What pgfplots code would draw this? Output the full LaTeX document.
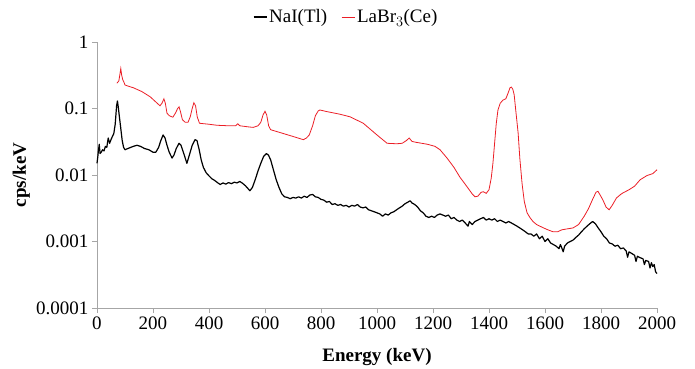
\documentclass[border=0pt]{standalone}
\usepackage{pgfplots}
\pgfplotsset{compat=1.18}
\usepackage{fontspec}
\setmainfont{Liberation Serif}
\definecolor{labr}{RGB}{235,30,38}
\begin{document}
\begin{tikzpicture}
\path[use as bounding box] (-97pt,-60pt) rectangle (598pt,308pt);
\begin{axis}[
  scale only axis, width=560pt, height=266pt,
  ymode=log, xmin=0, xmax=2000, ymin=1e-4, ymax=1,
  axis lines*=left,
  axis line style={gray!70, line width=0.8pt},
  tick style={gray!70, line width=0.8pt},
  tick align=outside, major tick length=5pt,
  xtick={0,200,...,2000},
  xticklabels={0,200,400,600,800,1000,1200,1400,1600,1800,2000},
  ytick={1e-4,1e-3,1e-2,1e-1,1},
  yticklabels={0.0001,0.001,0.01,0.1,1},
  yminorticks=false,
  tick label style={font=\fontsize{19}{22}\selectfont},
  xlabel={\bfseries Energy (keV)},
  ylabel={\bfseries cps/keV},
  label style={font=\fontsize{19}{22}\selectfont},
  xlabel style={at={(axis description cs:0.5,-0.185)}, anchor=center},
  ylabel style={at={(axis description cs:-0.135,0.5)}, anchor=center},
  legend columns=2,
  legend style={draw=none, fill=none, at={(axis description cs:0.445,1.094)}, anchor=center,
    font=\fontsize{19}{22}\selectfont, /tikz/every even column/.append style={column sep=12pt}},
  legend image code/.code={\draw[#1] (0pt,0pt) -- (13pt,0pt);},
  clip=false,
]
\addplot[black, line width=1.2pt, line join=round] coordinates {
(0,0.015)(3,0.019)(5,0.023)(8,0.029)(11,0.021)(15,0.022)(20,0.024)(25,0.023)(30,0.027)(35,0.026)
(40,0.036)(45,0.030)(50,0.034)(55,0.038)(60,0.042)(65,0.058)(70,0.11)(73,0.13)(76,0.105)(80,0.075)
(85,0.05)(90,0.033)(95,0.026)(100,0.024)(110,0.025)(120,0.026)(130,0.027)(143,0.028)(155,0.027)
(170,0.025)(185,0.024)(200,0.022)(210,0.022)(220,0.026)(228,0.033)(236,0.040)(243,0.036)(250,0.028)
(258,0.022)(268,0.018)(275,0.020)(283,0.025)(293,0.030)(300,0.028)(310,0.021)(321,0.015)(330,0.020)
(340,0.028)(350,0.034)(357,0.033)(365,0.024)(372,0.017)(380,0.013)(390,0.0108)(400,0.0097)
(410,0.0088)(420,0.0083)(430,0.0077)(440,0.0072)(450,0.0076)(460,0.0073)(470,0.0077)(480,0.0074)
(490,0.0078)(500,0.0076)(510,0.0080)(520,0.0075)(530,0.0069)(540,0.0062)(546,0.0058)(555,0.0065)
(565,0.0085)(575,0.0115)(585,0.015)(595,0.019)(605,0.021)(612,0.020)(620,0.017)(630,0.012)
(640,0.0085)(650,0.0065)(660,0.0052)(670,0.0047)(680,0.0046)(690,0.0044)(700,0.0046)(710,0.0045)
(720,0.0047)(730,0.0045)(740,0.0048)(750,0.0046)(760,0.0050)(770,0.0051)(780,0.0047)(790,0.0046)
(800,0.0043)(810,0.0042)(820,0.0039)(830,0.0040)(840,0.0036)(850,0.0037)(860,0.0035)(870,0.0036)
(880,0.0034)(890,0.0035)(900,0.0033)(910,0.0035)(920,0.0034)(930,0.0036)(940,0.0033)(950,0.0032)
(960,0.0033)(970,0.0030)(980,0.0029)(990,0.0028)(1000,0.0027)(1010,0.0026)(1020,0.0024)(1030,0.0026)
(1040,0.0025)(1050,0.0027)(1060,0.0028)(1070,0.0030)(1080,0.0032)(1090,0.0034)(1100,0.0037)
(1110,0.0039)(1118,0.0041)(1125,0.0038)(1135,0.0036)(1145,0.0033)(1155,0.0029)(1165,0.0027)
(1175,0.0024)(1185,0.0023)(1195,0.0024)(1205,0.0023)(1215,0.0025)(1225,0.0026)(1235,0.0025)
(1245,0.0024)(1255,0.0025)(1265,0.0022)(1275,0.0023)(1285,0.0021)(1295,0.0020)(1305,0.0021)
(1315,0.0019)(1325,0.0017)(1330,0.0020)(1340,0.0018)(1350,0.0020)(1360,0.0021)(1370,0.0022)
(1380,0.0023)(1390,0.0021)(1400,0.0022)(1410,0.0021)(1420,0.0022)(1430,0.0020)(1440,0.0021)
(1450,0.0020)(1460,0.0019)(1470,0.0020)(1480,0.0019)(1490,0.0018)(1500,0.0017)(1510,0.0016)
(1520,0.0015)(1530,0.0014)(1540,0.0013)(1550,0.0013)(1560,0.0012)(1570,0.0013)(1580,0.0011)
(1590,0.0012)(1600,0.0010)(1610,0.0011)(1620,0.00095)(1630,0.00090)(1640,0.00085)(1650,0.00078)
(1655,0.00090)(1660,0.00080)(1665,0.00070)(1670,0.00085)(1680,0.00095)(1690,0.00100)(1700,0.00105)
(1710,0.00115)(1720,0.00125)(1730,0.00140)(1740,0.00155)(1750,0.00170)(1760,0.00185)(1770,0.0020)
(1780,0.00185)(1790,0.0016)(1800,0.0014)(1810,0.0012)(1820,0.0011)(1830,0.00095)(1840,0.00092)
(1850,0.00085)(1860,0.00088)(1870,0.00078)(1880,0.00080)(1890,0.00072)(1895,0.00058)(1900,0.00070)
(1910,0.00066)(1920,0.00062)(1925,0.00050)(1930,0.00060)(1940,0.00057)(1950,0.00055)(1955,0.00045)
(1960,0.00052)(1970,0.00050)(1975,0.00040)(1980,0.00048)(1985,0.00042)(1990,0.00045)(1995,0.00035)
(2000,0.00033)
};
\addlegendentry{NaI(Tl)}
\addplot[labr, line width=0.8pt] coordinates {
(71,0.24)(78,0.26)(82,0.33)(85,0.40)(88,0.32)(92,0.27)(96,0.25)(100,0.226)(107,0.22)(130,0.205)
(160,0.18)(190,0.15)(215,0.12)(225,0.11)(232,0.12)(239,0.14)(244,0.12)(250,0.085)(258,0.078)
(271,0.074)(280,0.085)(288,0.10)(293,0.106)(298,0.09)(305,0.068)(315,0.062)(325,0.062)(333,0.075)
(340,0.10)(346,0.122)(352,0.11)(358,0.075)(366,0.060)(400,0.058)(428,0.056)(470,0.055)(495,0.055)
(503,0.059)(510,0.055)(540,0.053)(558,0.052)(575,0.055)(585,0.062)(593,0.080)(600,0.091)(606,0.080)
(613,0.055)(620,0.048)(650,0.044)(700,0.038)(737,0.034)(748,0.036)(758,0.040)(770,0.055)(780,0.078)
(790,0.092)(796,0.095)(820,0.090)(868,0.082)(904,0.075)(951,0.060)(1000,0.040)(1036,0.030)
(1070,0.0295)(1090,0.030)(1105,0.033)(1115,0.036)(1125,0.032)(1140,0.031)(1180,0.029)(1207,0.027)
(1225,0.024)(1250,0.018)(1275,0.013)(1296,0.0093)(1320,0.0068)(1340,0.0052)(1350,0.0047)
(1360,0.0048)(1372,0.0055)(1380,0.0056)(1390,0.0053)(1400,0.0060)(1408,0.009)(1414,0.015)
(1420,0.030)(1426,0.060)(1432,0.095)(1440,0.120)(1450,0.134)(1460,0.140)(1468,0.17)(1475,0.205)
(1480,0.210)(1485,0.195)(1490,0.16)(1496,0.09)(1504,0.043)(1510,0.018)(1518,0.0075)(1526,0.0040)
(1536,0.0027)(1546,0.0023)(1557,0.0020)(1570,0.0018)(1582,0.0017)(1595,0.0016)(1610,0.0015)
(1629,0.0014)(1645,0.0014)(1660,0.0015)(1680,0.00155)(1700,0.0016)(1720,0.0018)(1740,0.0024)
(1755,0.0031)(1770,0.0043)(1782,0.0055)(1789,0.0057)(1797,0.0050)(1807,0.0042)(1818,0.0033)
(1829,0.0030)(1840,0.0035)(1855,0.0045)(1870,0.0051)(1879,0.0054)(1900,0.0060)(1920,0.0068)
(1940,0.0085)(1964,0.0098)(1985,0.0105)(2000,0.0120)
};
\addlegendentry{LaBr$_3$(Ce)}
\end{axis}
\end{tikzpicture}
\end{document}
